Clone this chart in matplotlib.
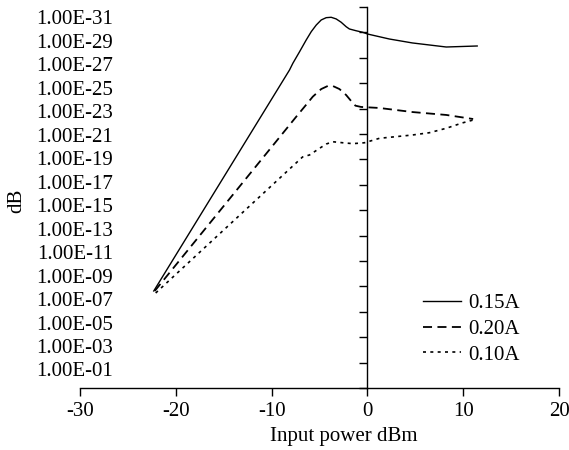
import numpy as np
import matplotlib
matplotlib.use("Agg")
import matplotlib.pyplot as plt
from matplotlib.ticker import FixedLocator, NullFormatter, NullLocator

plt.rcParams['font.family'] = ['Liberation Serif', 'DejaVu Serif']

# Data: x = input power (dBm), y given as exponent e where value = 1e-e
x_015 = [-22.3, -8.13, -7.78, -7.08, -6.39, -5.86, -5.34, -4.82, -4.30, -3.78, -3.26,
         -2.74, -2.22, -1.88, -1.18, -0.49, 0.03, 2.29, 4.69, 8.23, 11.46]
e_015 = [7.64, 25.04, 25.57, 26.48, 27.40, 28.06, 28.58, 28.98, 29.16, 29.19, 29.06,
         28.80, 28.45, 28.27, 28.13, 28.01, 27.87, 27.48, 27.17, 26.85, 26.93]

x_020 = [-22.2, -8.13, -7.43, -6.56, -5.70, -4.82, -4.14, -3.61, -2.92, -2.22, -1.70,
         -1.25, -0.66, 0.03, 1.25, 4.69, 8.23, 11.04]
e_020 = [7.64, 20.71, 21.36, 22.15, 22.94, 23.54, 23.78, 23.78, 23.54, 23.07, 22.60,
         22.23, 22.13, 22.10, 22.05, 21.73, 21.50, 21.18]

x_010 = [-22.1, -6.77, -6.04, -5.0, -4.30, -3.61, -2.57, -1.53, -0.31, 1.25, 4.69,
         6.46, 8.23, 9.90, 11.04]
e_010 = [7.48, 18.19, 18.35, 18.87, 19.21, 19.39, 19.31, 19.24, 19.31, 19.66, 19.92,
         20.10, 20.45, 20.87, 21.10]

series_labels = ['0.15A', '0.20A', '0.10A']
y_tick_labels = ['1.00E-31', '1.00E-29', '1.00E-27', '1.00E-25', '1.00E-23', '1.00E-21',
                 '1.00E-19', '1.00E-17', '1.00E-15', '1.00E-13', '1.00E-11', '1.00E-09',
                 '1.00E-07', '1.00E-05', '1.00E-03', '1.00E-01']
x_ticks = [-30, -20, -10, 0, 10, 20]

fig = plt.figure(figsize=(5.69, 4.5), dpi=100)
ax = fig.add_axes([80/569, 1 - 388/450, (559-80)/569, (388-7)/450])

def val(e):
    return 10.0 ** (-np.asarray(e))

ax.plot(x_015, val(e_015), color='black', lw=1.0, ls='-', label=series_labels[0])
ax.plot(x_020, val(e_020), color='black', lw=1.3, ls=(0, (5, 3)), label=series_labels[1])
ax.plot(x_010, val(e_010), color='black', lw=1.2, ls=(0, (1.8, 2.6)), label=series_labels[2])

ax.set_yscale('log')
ax.set_ylim(1.0, 1e-30)
ax.set_xlim(-30, 20)

ax.yaxis.set_major_locator(FixedLocator(10.0 ** (-np.arange(0, 31, 2))))
ax.yaxis.set_major_formatter(NullFormatter())
ax.yaxis.set_minor_locator(NullLocator())
ax.set_xticks(x_ticks)
ax.set_xticklabels([str(t) for t in x_ticks], fontsize=15)

ax.spines['left'].set_position(('data', 0))
ax.spines['top'].set_visible(False)
ax.spines['right'].set_visible(False)
for sp in ax.spines.values():
    sp.set_linewidth(1.0)
ax.tick_params(axis='y', direction='out', length=6, width=1.0)
ax.tick_params(axis='x', direction='out', length=6, width=1.0, pad=4)

# y "tick" labels drawn as text, evenly spread at the left
n = len(y_tick_labels)
pos_e = np.linspace(28.98, 1.26, n)
for lab, pe in zip(y_tick_labels, pos_e):
    ax.text(113/569, 1 - (388 - pe*12.7)/450, lab, transform=fig.transFigure,
            ha='right', va='center', fontsize=15)

fig.text(17/569, 1 - 201/450, 'dB', rotation=90, ha='center', va='center', fontsize=15)
fig.text(344/569, 1 - 437/450, 'Input power dBm', ha='center', va='center', fontsize=15)

leg = ax.legend(loc='center left', bbox_to_anchor=(423/569, 1 - 329/450),
                bbox_transform=fig.transFigure, frameon=False, fontsize=15,
                handlelength=1.8, handletextpad=0.35, labelspacing=0.3, borderpad=0,
                borderaxespad=0)

fig.savefig('out.png', dpi=100)
